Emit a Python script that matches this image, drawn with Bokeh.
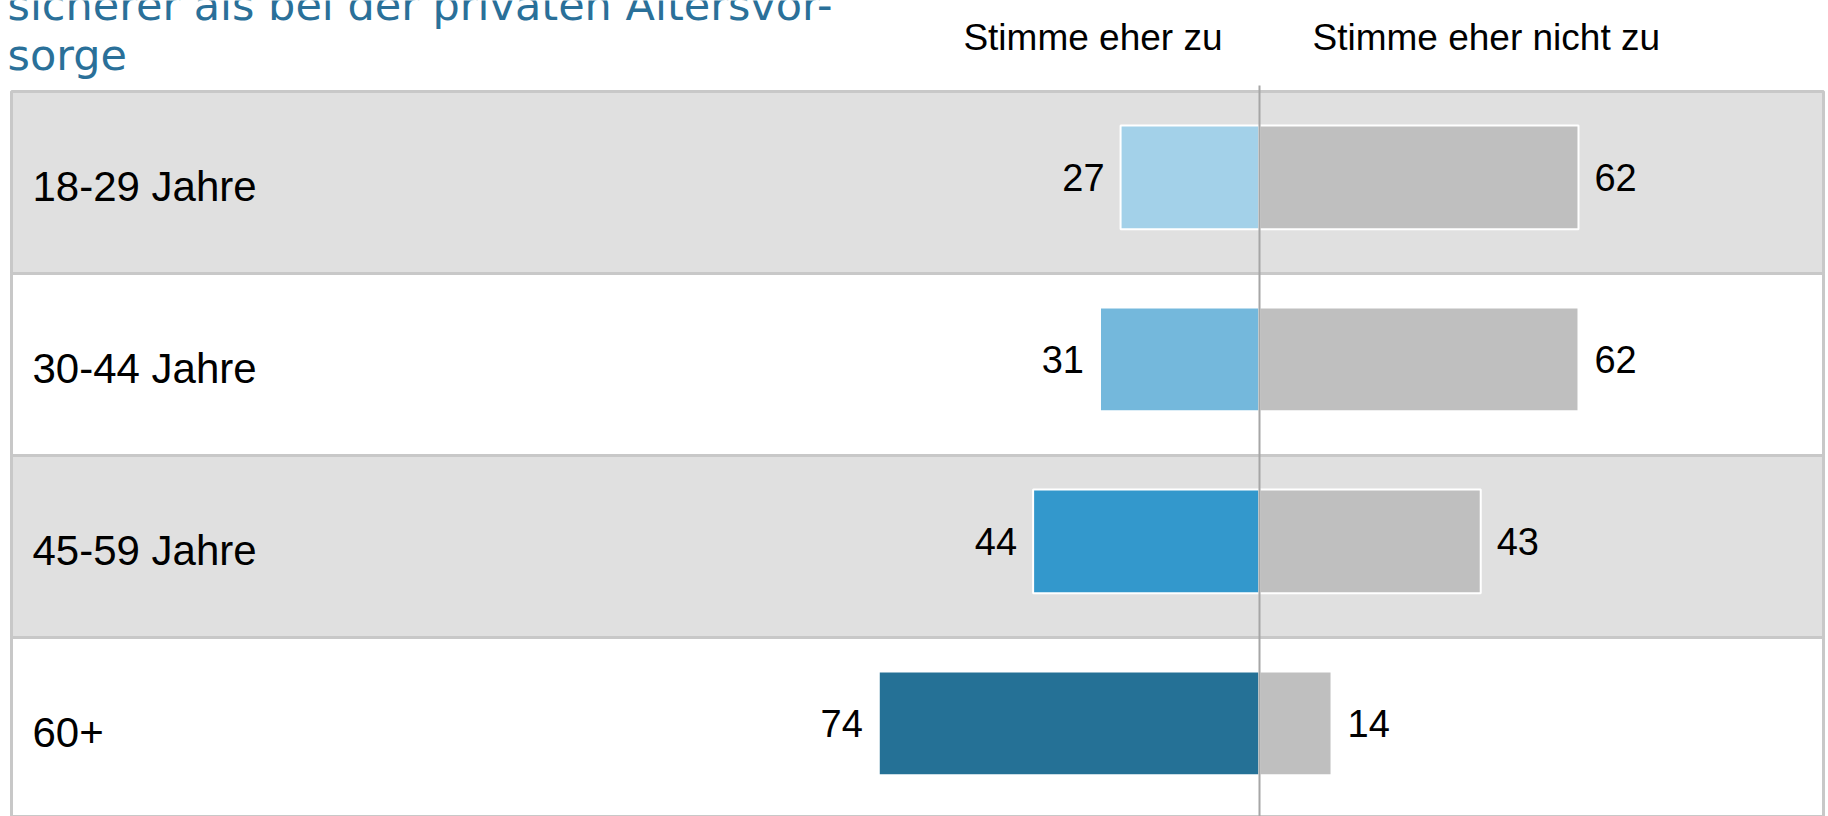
from bokeh.plotting import figure
from bokeh.models import Range1d
from bokeh.core.properties import value
from bokeh.embed import file_html
from bokeh.resources import INLINE

# ---- data ----
title_lines = ["sicherer als bei der privaten Altersvor-", "sorge"]
header_zu = "Stimme eher zu"
header_nicht = "Stimme eher nicht zu"
categories = ["18-29 Jahre", "30-44 Jahre", "45-59 Jahre", "60+"]
zu = [27, 31, 44, 74]
nicht_zu = [62, 62, 43, 14]
zu_colors = ["#a3d1e9", "#74b8dc", "#3398cc", "#257196"]

# ---- layout constants (screen px) ----
W, H = 1828, 816
PX_PER_UNIT = 5.145
ZERO_X = 1259
BAND_TOP = 91
BAND_H = 182

x_start = -ZERO_X / PX_PER_UNIT
x_end = (W - ZERO_X) / PX_PER_UNIT
first_center = BAND_TOP + BAND_H / 2


def ypix(py):
    return (py - first_center) / BAND_H


def xpix(px):
    return (px - ZERO_X) / PX_PER_UNIT


y_top = ypix(0)
y_bottom = ypix(H)

p = figure(width=W, height=H,
           x_range=Range1d(x_start, x_end),
           y_range=Range1d(y_bottom, y_top),
           output_backend="svg", toolbar_location=None,
           x_axis_type=None, y_axis_type=None,
           min_border=0, min_border_left=0, min_border_right=0,
           min_border_top=0, min_border_bottom=0)
p.outline_line_color = None
p.background_fill_color = "white"
p.border_fill_color = "white"

idx = list(range(len(categories)))
band_fill = ["#e0e0e0" if i % 2 == 0 else "#ffffff" for i in idx]
band_left = xpix(11)
band_right = xpix(1823)

# row bands
p.hbar(y=idx, height=1, left=band_left, right=band_right,
       fill_color=band_fill, line_color="#c8c8c8", line_width=3)

# bars
bar_y = [i - 0.028 for i in idx]
p.hbar(y=bar_y, height=0.571, left=[-v for v in zu], right=0,
       fill_color=zu_colors, line_color="white", line_width=2)
p.hbar(y=bar_y, height=0.571, left=0, right=nicht_zu,
       fill_color="#bfbfbf", line_color="white", line_width=2)

# zero line
p.segment(x0=[0], y0=[ypix(85)], x1=[0], y1=[y_bottom],
          line_color="#a6a6a6", line_width=2)

font = value("Liberation Sans")

# value labels
p.text(x=[-v for v in zu], y=bar_y, text=[str(v) for v in zu],
       x_offset=-16, text_align="right", text_baseline="middle",
       text_font=font, text_font_size="38px", text_color="black")
p.text(x=nicht_zu, y=bar_y, text=[str(v) for v in nicht_zu],
       x_offset=16, text_align="left", text_baseline="middle",
       text_font=font, text_font_size="38px", text_color="black")

# category labels
p.text(x=[band_left] * len(categories), y=idx, text=categories,
       x_offset=21, y_offset=4, text_align="left", text_baseline="middle",
       text_font=font, text_font_size="42px", text_color="black")

# column headers
p.text(x=[0], y=[ypix(37)], text=[header_zu], x_offset=-37,
       text_align="right", text_baseline="alphabetic",
       text_font=font, text_font_size="37px", text_color="black")
p.text(x=[0], y=[ypix(37)], text=[header_nicht], x_offset=53,
       text_align="left", text_baseline="alphabetic",
       text_font=font, text_font_size="37px", text_color="black")

# title (partially cut off at top, as in the source)
p.text(x=[xpix(7), xpix(7)], y=[ypix(4), ypix(54)], text=title_lines,
       text_align="left", text_baseline="alphabetic",
       text_font=value("DejaVu Sans"), text_font_size="43px",
       text_color="#2a7099")

open("out.html", "w").write(file_html(p, INLINE))
